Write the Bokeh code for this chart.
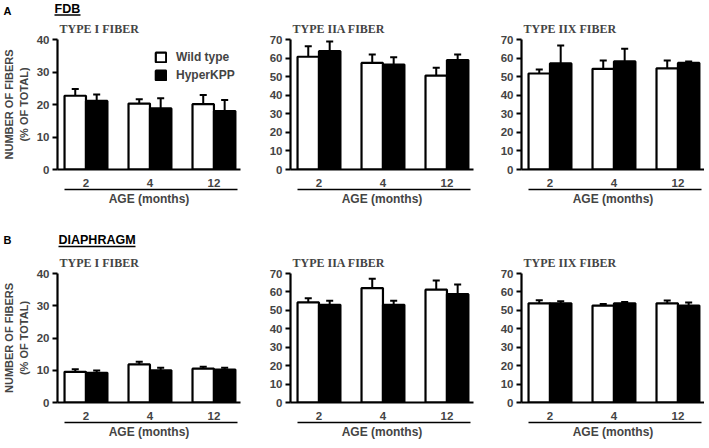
from bokeh.plotting import figure
from bokeh.models import (Range1d, LinearAxis, FixedTicker, Legend, LegendItem, ColumnDataSource)
from bokeh.transform import dodge
from bokeh.layouts import row, column
from bokeh.embed import file_html
from bokeh.resources import INLINE
from bokeh.core.properties import value

# ---------------- data ----------------
ages = ["2", "4", "12"]
series_names = ["Wild type", "HyperKPP"]

fdb_i_wt = [22.7, 20.3, 20.1]
fdb_i_wt_err = [2.1, 1.3, 2.8]
fdb_i_hk = [21.1, 18.8, 18.0]
fdb_i_hk_err = [2.0, 3.1, 3.4]

fdb_iia_wt = [60.7, 57.4, 50.6]
fdb_iia_wt_err = [5.7, 4.5, 4.2]
fdb_iia_hk = [63.7, 56.5, 58.9]
fdb_iia_hk_err = [5.2, 4.0, 3.0]

fdb_iix_wt = [51.7, 54.2, 54.5]
fdb_iix_wt_err = [2.1, 4.5, 4.2]
fdb_iix_hk = [57.1, 58.2, 57.4]
fdb_iix_hk_err = [9.7, 6.8, 0.8]

dia_i_wt = [9.5, 11.8, 10.5]
dia_i_wt_err = [0.8, 0.8, 0.6]
dia_i_hk = [9.2, 10.0, 10.2]
dia_i_hk_err = [0.7, 0.8, 0.6]

dia_iia_wt = [54.3, 62.1, 61.2]
dia_iia_wt_err = [2.3, 5.0, 5.0]
dia_iia_hk = [53.0, 53.0, 58.8]
dia_iia_hk_err = [2.2, 2.2, 5.2]

dia_iix_wt = [53.8, 52.6, 53.8]
dia_iix_wt_err = [1.7, 0.8, 1.5]
dia_iix_hk = [53.8, 53.8, 52.6]
dia_iix_hk_err = [1.2, 0.7, 1.7]

y_ticks_i = [0, 10, 20, 30, 40]
y_ticks_ii = [0, 10, 20, 30, 40, 50, 60, 70]

SANS = "Liberation Sans"
SERIF = "Liberation Serif"
BW = 0.335   # bar width in category units
OFF = BW / 2
CAP = 0.055
POS = list(range(len(ages)))          # category slots on the x scale
PAGE_W = 701


def panel(title, ymax, yticks, wt, wt_err, hk, hk_err, left, right, top, bottom,
          frame_h, ylabel=False, legend=False):
    src = ColumnDataSource(dict(
        pos=POS, wt=wt, hk=hk,
        wt_hi=[v + e for v, e in zip(wt, wt_err)],
        hk_hi=[v + e for v, e in zip(hk, hk_err)],
    ))
    p = figure(x_range=Range1d(-0.445, 2.415),
               y_range=Range1d(0, ymax),
               frame_width=183, frame_height=frame_h,
               min_border_left=left, min_border_right=right,
               min_border_top=top, min_border_bottom=bottom,
               output_backend="svg", toolbar_location=None)
    p.outline_line_color = None
    p.grid.visible = False
    p.background_fill_color = None
    p.border_fill_color = None

    r_wt = p.vbar(x=dodge("pos", -OFF), top="wt", width=BW,
                  source=src, fill_color="white", line_color="black", line_width=2.2)
    r_hk = p.vbar(x=dodge("pos", OFF), top="hk", width=BW,
                  source=src, fill_color="black", line_color="black", line_width=2.2)
    for off, lo, hi in ((-OFF, "wt", "wt_hi"), (OFF, "hk", "hk_hi")):
        p.segment(x0=dodge("pos", off), y0=lo, x1=dodge("pos", off), y1=hi,
                  source=src, line_color="black", line_width=2)
        p.segment(x0=dodge("pos", off - CAP), y0=hi, x1=dodge("pos", off + CAP), y1=hi,
                  source=src, line_color="black", line_width=2)

    # title
    p.title.text = title
    p.title.text_font = SERIF
    p.title.text_font_style = "bold"
    p.title.text_font_size = "12px"
    p.title.align = "left"
    p.title.offset = 2
    p.title.standoff = 7

    # x axis
    xa = p.xaxis[0]
    xa.ticker = FixedTicker(ticks=POS)
    xa.major_label_overrides = {i: a for i, a in zip(POS, ages)}
    xa.axis_line_width = 2.2
    xa.major_tick_line_color = None
    xa.minor_tick_line_color = None
    xa.major_tick_out = 0
    xa.major_tick_in = 0
    xa.major_label_text_font = SANS
    xa.major_label_text_font_style = "bold"
    xa.major_label_text_font_size = "11.5px"
    xa.major_label_standoff = 9

    # y axis
    ya = p.yaxis[0]
    ya.ticker = FixedTicker(ticks=yticks)
    ya.axis_line_width = 2.2
    ya.major_tick_line_width = 2
    ya.major_tick_out = 5
    ya.major_tick_in = 0
    ya.minor_tick_line_color = None
    ya.major_label_text_font = SANS
    ya.major_label_text_font_style = "bold"
    ya.major_label_text_font_size = "11.5px"
    ya.major_label_standoff = 3
    if ylabel:
        ya.axis_label = "NUMBER OF FIBERS\n(% OF TOTAL)"
        ya.axis_label_text_font = SANS
        ya.axis_label_text_font_style = "bold"
        ya.axis_label_text_font_size = "11px"
        ya.axis_label_standoff = 4

    # underline + "AGE (months)"
    ua = LinearAxis(bounds=(-0.34, 2.37),
                    ticker=FixedTicker(ticks=[]),
                    axis_line_width=1.5, major_tick_out=0, major_tick_in=0,
                    minor_tick_out=0, minor_tick_in=0,
                    major_label_standoff=0, major_label_text_font_size="0px",
                    axis_label="AGE (months)", axis_label_standoff=2,
                    axis_label_text_font=SANS, axis_label_text_font_style="bold",
                    axis_label_text_font_size="12px")
    p.add_layout(ua, "below")

    if legend:
        lg = Legend(items=[LegendItem(label=series_names[0], renderers=[r_wt]),
                           LegendItem(label=series_names[1], renderers=[r_hk])],
                    location=(97, 87), glyph_width=13, glyph_height=12,
                    label_height=12, label_standoff=9, spacing=4, padding=2,
                    margin=0, border_line_color=None, background_fill_alpha=0,
                    label_text_font=SANS, label_text_font_style="bold",
                    label_text_font_size="12px")
        p.add_layout(lg)
    return p


def header(letter, name, name_x, name_w, height, letter_y, text_y, line_y):
    h = figure(width=PAGE_W, height=height, x_range=Range1d(0, PAGE_W),
               y_range=Range1d(0, height), min_border=0, x_axis_type=None,
               y_axis_type=None, output_backend="svg", toolbar_location=None)
    h.outline_line_color = None
    h.grid.visible = False
    h.text(x=[3], y=[letter_y], text=[letter], text_font=value(SANS),
           text_font_style="bold", text_font_size="11px", text_baseline="middle")
    h.text(x=[name_x], y=[text_y], text=[name], text_font=value(SANS),
           text_font_style="bold", text_font_size="12.5px", text_baseline="middle")
    h.segment(x0=[name_x], y0=[line_y], x1=[name_x + name_w], y1=[line_y],
              line_color="black", line_width=1.5)
    return h


TOP_H = 130
BOT_H = 129

hA = header("A", "FDB", 54, 26, 16, 6, 8, 1.5)
a1 = panel("TYPE I FIBER", 40, y_ticks_i, fdb_i_wt, fdb_i_wt_err, fdb_i_hk, fdb_i_hk_err,
           54, 26, 20, 38, TOP_H, ylabel=True, legend=True)
a2 = panel("TYPE IIA FIBER", 70, y_ticks_ii, fdb_iia_wt, fdb_iia_wt_err, fdb_iia_hk, fdb_iia_hk_err,
           24, 24, 20, 38, TOP_H)
a3 = panel("TYPE IIX FIBER", 70, y_ticks_ii, fdb_iix_wt, fdb_iix_wt_err, fdb_iix_hk, fdb_iix_hk_err,
           24, 0, 20, 38, TOP_H)
hB = header("B", "DIAPHRAGM", 58, 77, 42, 11, 11, 4)
b1 = panel("TYPE I FIBER", 40, y_ticks_i, dia_i_wt, dia_i_wt_err, dia_i_hk, dia_i_hk_err,
           54, 26, 20, 35, BOT_H, ylabel=True)
b2 = panel("TYPE IIA FIBER", 70, y_ticks_ii, dia_iia_wt, dia_iia_wt_err, dia_iia_hk, dia_iia_hk_err,
           24, 24, 20, 35, BOT_H)
b3 = panel("TYPE IIX FIBER", 70, y_ticks_ii, dia_iix_wt, dia_iix_wt_err, dia_iix_hk, dia_iix_hk_err,
           24, 0, 20, 35, BOT_H)

layout = column(hA, row(a1, a2, a3), hB, row(b1, b2, b3))
open("out.html", "w").write(file_html(layout, INLINE))
